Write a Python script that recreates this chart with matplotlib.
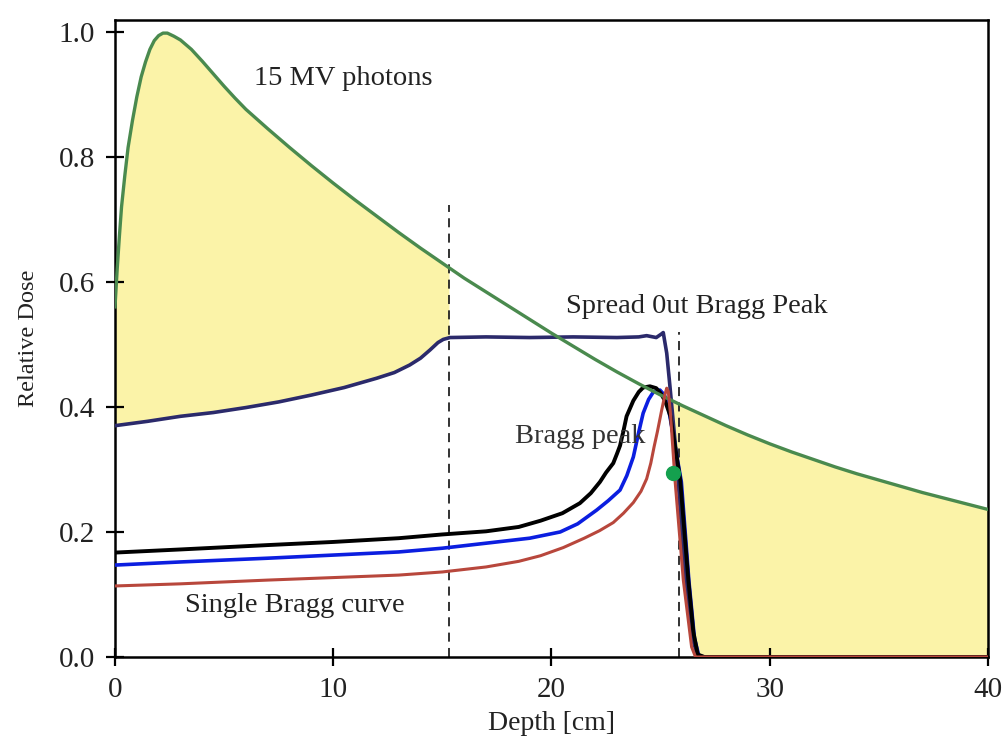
import matplotlib.pyplot as plt
import numpy as np

# 15 MV photon depth dose
photon_x = [0, 0.1, 0.2, 0.3, 0.45, 0.6, 0.8, 1.0, 1.2, 1.4, 1.6, 1.8, 2.0, 2.2, 2.4, 2.7, 3.0, 3.5,
            4.0, 4.5, 5.0, 5.5, 6.0, 7.0, 8.0, 9.0, 10.0, 11.0, 12.0, 13.0, 14.0, 15.0, 16.0, 17.0,
            18.0, 19.0, 20.0, 21.0, 22.0, 23.0, 24.0, 25.0, 26.0, 27.0, 28.0, 29.0, 30.0, 31.0, 32.0,
            33.0, 34.0, 35.0, 36.0, 37.0, 38.0, 39.0, 40.0]
photon_y = [0.56, 0.62, 0.672, 0.72, 0.77, 0.815, 0.858, 0.896, 0.928, 0.952, 0.972, 0.986, 0.994,
            0.998, 0.998, 0.993, 0.987, 0.972, 0.953, 0.933, 0.913, 0.894, 0.876, 0.845, 0.815, 0.786,
            0.758, 0.731, 0.705, 0.679, 0.654, 0.630, 0.606, 0.584, 0.562, 0.540, 0.518, 0.497, 0.476,
            0.456, 0.437, 0.419, 0.402, 0.386, 0.370, 0.355, 0.341, 0.328, 0.316, 0.304, 0.293, 0.283,
            0.273, 0.263, 0.254, 0.245, 0.236]

# spread out Bragg peak
sobp_x = [0, 1.5, 3.0, 4.5, 6.0, 7.5, 9.0, 10.5, 12.0, 12.8, 13.5, 14.0, 14.43, 14.8, 15.04, 15.35,
          17.0, 19.0, 21.0, 23.0, 24.0, 24.36, 24.8, 25.05, 25.12, 25.28, 25.43, 25.7, 26.1, 26.5,
          26.7, 40]
sobp_y = [0.370, 0.377, 0.385, 0.391, 0.399, 0.408, 0.419, 0.431, 0.446, 0.455, 0.467, 0.478, 0.491,
          0.503, 0.508, 0.511, 0.512, 0.511, 0.512, 0.511, 0.512, 0.514, 0.511, 0.517, 0.519, 0.486,
          0.432, 0.33, 0.14, 0.025, 0.0, 0.0]

# individual Bragg curves
black_x = [0, 3, 7, 10, 13, 15, 17, 18.5, 19.5, 20.5, 21.3, 21.8, 22.22, 22.5, 22.83, 23.0, 23.14,
           23.3, 23.44, 23.75, 24.0, 24.2, 24.51, 24.8, 25.0, 25.2, 25.45, 25.9, 26.27, 26.5, 26.7,
           27.0, 40]
black_y = [0.167, 0.172, 0.179, 0.184, 0.19, 0.196, 0.201, 0.208, 0.218, 0.23, 0.246, 0.262, 0.28,
           0.295, 0.31, 0.325, 0.338, 0.362, 0.385, 0.41, 0.424, 0.431, 0.433, 0.43, 0.422, 0.41,
           0.385, 0.283, 0.123, 0.04, 0.004, 0.0, 0.0]

blue_x = [0, 3, 7, 10, 13, 15, 17, 19, 20.4, 21.2, 22.07, 22.6, 23.14, 23.45, 23.75, 24.0, 24.2,
          24.45, 24.67, 24.97, 25.15, 25.3, 25.6, 25.95, 26.3, 26.55, 26.75, 27.0, 40]
blue_y = [0.147, 0.152, 0.158, 0.163, 0.168, 0.174, 0.182, 0.19, 0.2, 0.213, 0.235, 0.25, 0.267, 0.29,
          0.32, 0.36, 0.39, 0.412, 0.424, 0.427, 0.42, 0.41, 0.35, 0.28, 0.12, 0.03, 0.002, 0.0, 0.0]

red_x = [0, 3, 7, 10, 13, 15, 17, 18.5, 19.5, 20.54, 21.5, 22.2, 22.83, 23.3, 23.75, 24.1, 24.36,
         24.55, 24.7, 24.85, 25.05, 25.2, 25.28, 25.35, 25.45, 25.66, 26.04, 26.42, 26.6, 27.0, 40]
red_y = [0.1136, 0.117, 0.123, 0.127, 0.131, 0.136, 0.144, 0.153, 0.162, 0.175, 0.19, 0.202, 0.215,
         0.23, 0.247, 0.265, 0.285, 0.31, 0.336, 0.36, 0.395, 0.42, 0.43, 0.425, 0.39, 0.283, 0.123,
         0.016, 0.0, 0.0, 0.0]

marker_x = [25.58]
marker_y = [0.295]

dashed_x = [15.3, 25.86]
dashed_top = [0.723, 0.52]

plt.rcParams['font.family'] = ['Liberation Serif', 'DejaVu Serif']

fig = plt.figure(figsize=(10.06, 7.40), dpi=100)
ax = fig.add_axes([0.1143, 0.1122, 0.8678, 0.8608])

# yellow areas where photons give more dose than the SOBP
xg = np.linspace(0, 40, 4001)
g = np.interp(xg, photon_x, photon_y)
s = np.interp(xg, sobp_x, sobp_y)
low = np.maximum.reduce([s, np.interp(xg, black_x, black_y), np.interp(xg, blue_x, blue_y),
                         np.interp(xg, red_x, red_y)])
ax.fill_between(xg, s, g, where=xg <= dashed_x[0], color='#fbf3a8', lw=0, zorder=1)
ax.fill_between(xg, low, g, where=(xg >= 25.3) & (g >= low), color='#fbf3a8', lw=0, zorder=1)

for xv, top in zip(dashed_x, dashed_top):
    ax.plot([xv, xv], [0, top], color='#222222', lw=1.3, ls=(0, (5, 3.5)), zorder=2)

ax.plot(sobp_x, sobp_y, color='#2b2a6b', lw=2.6, zorder=3)
ax.plot(blue_x, blue_y, color='#0b1ee0', lw=2.6, zorder=4)
ax.plot(black_x, black_y, color='black', lw=2.8, zorder=5)
ax.plot(photon_x, photon_y, color='#4a8a4e', lw=2.4, zorder=6)
ax.plot(red_x, red_y, color='#b8473c', lw=2.2, zorder=7)
ax.plot(marker_x, marker_y, 'o', color='#14a04e', ms=10, zorder=8)

tc = '#222222'
ax.text(10.45, 0.926, '15 MV photons', fontsize=20.5, ha='center', va='center', color=tc)
ax.text(26.67, 0.56, 'Spread 0ut Bragg Peak', fontsize=20.5, ha='center', va='center', color=tc)
ax.text(21.3, 0.352, 'Bragg peak', fontsize=20.5, ha='center', va='center', color='#333333', zorder=9)
ax.text(8.25, 0.082, 'Single Bragg curve', fontsize=20.5, ha='center', va='center', color=tc)

ax.set_xlim(0, 40)
ax.set_ylim(0, 1.019)
ax.set_xticks([0, 10, 20, 30, 40])
ax.set_yticks([0.0, 0.2, 0.4, 0.6, 0.8, 1.0])
ax.set_yticklabels(['0.0', '0.2', '0.4', '0.6', '0.8', '1.0'])
ax.tick_params(direction='inout', length=13, width=1.6, labelsize=21, colors='black',
               labelcolor=tc, pad=8)
for sp in ax.spines.values():
    sp.set_linewidth(1.8)

ax.set_xlabel('Depth [cm]', fontsize=20, color=tc, labelpad=6)
ax.set_ylabel('Relative Dose', fontsize=17.5, color=tc, labelpad=14)

fig.savefig('out.png', dpi=100)
